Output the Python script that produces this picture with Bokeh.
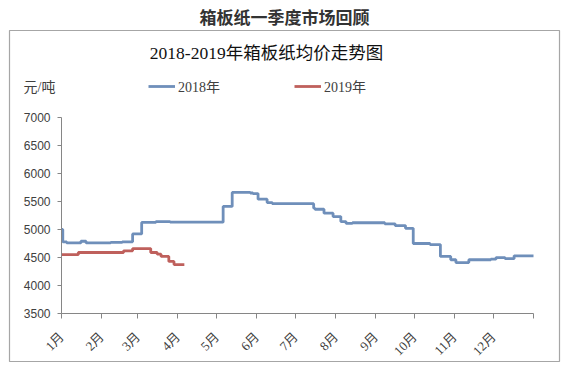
from bokeh.plotting import figure
from bokeh.models import (Range1d, FixedTicker, Label, Legend, LegendItem)
from bokeh.embed import file_html
from bokeh.resources import INLINE
import math

# ---------------- data ----------------
month_days = [0, 31, 59, 90, 120, 151, 181, 212, 243, 273, 304, 334, 365]
month_labels = ["1月", "2月", "3月", "4月", "5月", "6月", "7月", "8月", "9月", "10月", "11月", "12月", ""]
y_ticks = [3500, 4000, 4500, 5000, 5500, 6000, 6500, 7000]

day_2018 = [0, 1, 4, 15, 19, 38, 47, 55, 62, 73, 84, 125, 132, 146, 148, 152, 159, 163,
            195, 196, 203, 210, 216, 220, 225, 250, 258, 266, 272, 285, 293, 301, 305,
            315, 332, 336, 343, 350, 365]
price_2018 = [5000, 4780, 4760, 4790, 4760, 4770, 4780, 4920, 5125, 5140, 5130, 5410, 5660,
              5650, 5640, 5540, 5480, 5460, 5380, 5360, 5290, 5230, 5140, 5110, 5120, 5100,
              5070, 5020, 4750, 4730, 4520, 4460, 4410, 4460, 4470, 4500, 4480, 4530, 4530]

day_2019 = [0, 13, 48, 55, 69, 74, 77, 83, 87, 95]
price_2019 = [4550, 4590, 4620, 4660, 4590, 4560, 4520, 4430, 4375, 4375]

main_title = "箱板纸一季度市场回顾"
chart_title = "2018-2019年箱板纸均价走势图"
unit_label = "元/吨"
series_names = ["2018年", "2019年"]

# ---------------- layout ----------------
W, H = 567, 365
BOX_L, BOX_T, BOX_R, BOX_B = 9, 29, 559, 361        # frame = the grey box
AX_L, AX_R, AX_T, AX_B = 61, 533, 116, 313           # axes area inside the box
X0, X1 = month_days[0], month_days[-1]
Y0, Y1 = y_ticks[0], y_ticks[-1]
xs = (AX_R - AX_L) / (X1 - X0)
ys = (AX_B - AX_T) / (Y1 - Y0)
x_range = Range1d(X0 - (AX_L - BOX_L) / xs, X1 + (BOX_R - AX_R) / xs)
y_range = Range1d(Y0 - (BOX_B - AX_B) / ys, Y1 + (AX_T - BOX_T) / ys)

p = figure(width=W, height=H, output_backend="svg", toolbar_location=None,
           x_range=x_range, y_range=y_range,
           min_border_left=BOX_L, min_border_right=W - BOX_R,
           min_border_top=BOX_T, min_border_bottom=H - BOX_B)
p.outline_line_color = "#a6a6a6"
p.outline_line_width = 1.2
p.xgrid.visible = False
p.ygrid.visible = False
p.background_fill_color = "white"
p.border_fill_color = "white"

p.title.text = main_title
p.title.align = "center"
p.title.text_font = "Noto Sans CJK SC"
p.title.text_font_style = "bold"
p.title.text_font_size = "17px"
p.title.text_color = "#333333"
p.title.standoff = 3

sans = "'Liberation Sans', 'Noto Sans CJK SC', sans-serif"
serif = "'Liberation Serif', 'Noto Sans CJK SC', serif"

ax = p.xaxis[0]
ax.fixed_location = Y0
ax.bounds = (X0, X1)
ax.ticker = FixedTicker(ticks=month_days)
ax.major_label_overrides = {d: l for d, l in zip(month_days, month_labels)}
ax.major_label_orientation = math.pi / 4
ax.axis_line_color = "#868686"
ax.major_tick_line_color = "#868686"
ax.major_tick_out = 5
ax.major_tick_in = 0
ax.minor_tick_line_color = None
ax.major_label_text_font = serif
ax.major_label_text_font_size = "13px"
ax.major_label_text_color = "#404040"
ax.major_label_standoff = 16

ay = p.yaxis[0]
ay.fixed_location = X0
ay.bounds = (Y0, Y1)
ay.ticker = FixedTicker(ticks=y_ticks)
ay.axis_line_color = "#868686"
ay.major_tick_line_color = "#868686"
ay.major_tick_out = 4
ay.major_tick_in = 0
ay.minor_tick_line_color = None
ay.major_label_text_font = sans
ay.major_label_text_font_size = "12px"
ay.major_label_text_color = "#404040"
ay.major_label_standoff = 7

r18 = p.step(day_2018, price_2018, mode="after", line_color="#6f8fba", line_width=2.8)
r19 = p.step(day_2019, price_2019, mode="after", line_color="#bf605c", line_width=2.8)

# frame-relative screen coordinates (origin = box bottom-left)
legend = Legend(items=[LegendItem(label=series_names[0], renderers=[r18]),
                       LegendItem(label=series_names[1], renderers=[r19])],
                orientation="horizontal", location=(139, 265),
                glyph_width=27, glyph_height=14, label_height=16, label_standoff=3, spacing=74,
                padding=0, margin=0, border_line_color=None, background_fill_alpha=0,
                label_text_font=serif, label_text_font_size="14px",
                label_text_color="#404040")
p.add_layout(legend, "center")

p.add_layout(Label(x=257, y=309, x_units="screen", y_units="screen", text=chart_title,
                   text_align="center", text_baseline="middle",
                   text_font=serif, text_font_size="17.5px", text_color="#111111"))
p.add_layout(Label(x=14, y=274, x_units="screen", y_units="screen", text=unit_label,
                   text_align="left", text_baseline="middle",
                   text_font=serif, text_font_size="14px", text_color="#404040"))

open("out.html", "w").write(file_html(p, INLINE))
